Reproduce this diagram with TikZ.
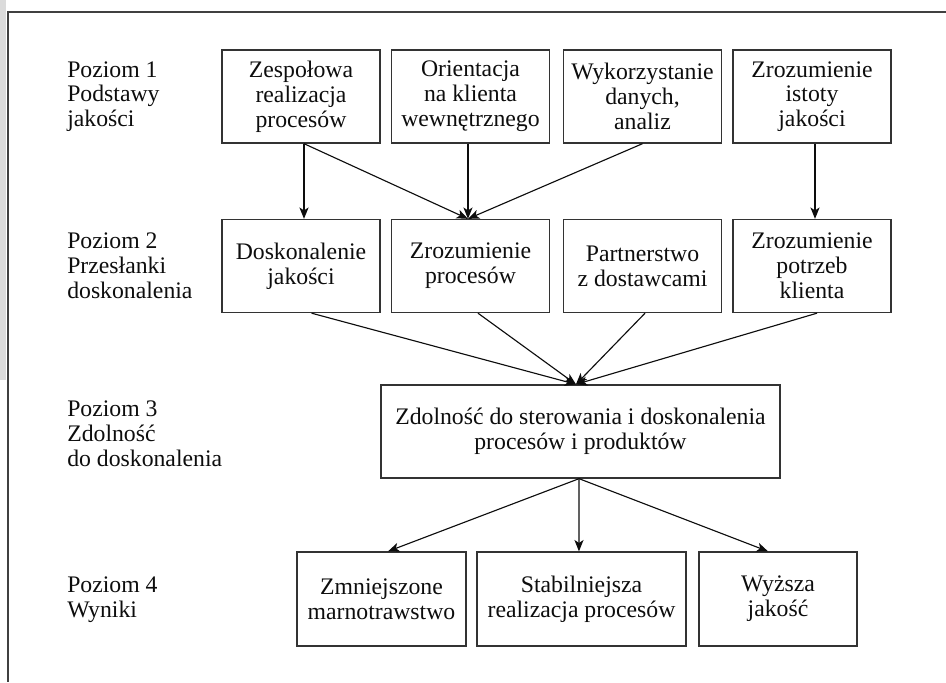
\documentclass[tikz,border=0pt]{standalone}
\usepackage{fontspec}
\setmainfont{Liberation Serif}
\usetikzlibrary{arrows.meta}
\newcommand\diagfont{\fontsize{17.8}{18.6}\selectfont}
\begin{document}
\begin{tikzpicture}[x=0.75pt,y=-0.75pt,
  box/.style={draw=black!80, line width=1pt, align=center, inner sep=2pt,
              font=\diagfont, text=black!95},
  toprow/.style={box, minimum width=118.5pt, minimum height=69.75pt},
  lvl/.style={anchor=west, align=left, inner sep=0pt, font=\diagfont, text=black!95},
  conn/.style={-{Stealth[length=8.5pt,width=6.8pt,inset=2.2pt]}, line width=0.85pt, black!95},
  ]
\useasboundingbox (0,0) rectangle (946,682);
% page edge and frame
\fill[black!14] (0,0) rectangle (6,380);
\draw[line width=1pt, black!75] (946,12) -- (8,12) -- (8,682);

% level labels
\node[lvl] (l1) at (67,96.5) {Poziom 1\\Podstawy\\jakości};
\node[lvl] (l2) at (67,266) {Poziom 2\\Przesłanki\\doskonalenia};
\node[lvl] (l3) at (67,434) {Poziom 3\\Zdolność\\do doskonalenia};
\node[lvl] (l4) at (67,600) {Poziom 4\\Wyniki};

% level 1
\node[toprow] (r1a) at (301,96.5)   {Zespołowa\\realizacja\\procesów};
\node[toprow] (r1b) at (470.5,96.5) {Orientacja\\na klienta\\wewnętrznego};
\node[toprow] (r1c) at (642.5,96.5) {Wykorzystanie\\danych,\\analiz};
\node[toprow] (r1d) at (812,96.5)   {Zrozumienie\\istoty\\jakości};

% level 2
\node[toprow] (r2a) at (301,266)   {Doskonalenie\\jakości};
\node[toprow] (r2b) at (470.5,266) {Zrozumienie\\procesów};
\node[toprow] (r2c) at (642.5,266) {Partnerstwo\\z dostawcami};
\node[toprow] (r2d) at (812,266)   {Zrozumienie\\potrzeb\\klienta};

% level 3
\node[box, minimum width=299.25pt, minimum height=69.75pt] (r3) at (580.5,431.5)
  {Zdolność do sterowania i doskonalenia\\procesów i produktów};

% level 4
\node[box, minimum width=126.75pt, minimum height=70.5pt] (r4a) at (381.5,599)
  {Zmniejszone\\marnotrawstwo};
\node[box, minimum width=156.75pt, minimum height=70.5pt] (r4b) at (581.5,599)
  {Stabilniejsza\\realizacja procesów};
\node[box, minimum width=118.5pt, minimum height=70.5pt] (r4c) at (778,599)
  {Wyższa\\jakość};

% level 1 -> level 2
\draw[conn] ([xshift=2.25pt]r1a.south) -- ([xshift=2.25pt]r2a.north);
\draw[conn] ([xshift=2.25pt]r1a.south) -- ([xshift=-1.9pt]r2b.north);
\draw[conn] ([xshift=-1.9pt]r1b.south) -- ([xshift=-1.9pt]r2b.north);
\draw[conn] (r1c.south) -- ([xshift=-1.9pt]r2b.north);
\draw[conn] ([xshift=2.25pt]r1d.south) -- ([xshift=2.25pt]r2d.north);

% level 2 -> level 3
\draw[conn] ([xshift=7.9pt]r2a.south) -- ([xshift=-3.4pt]r3.north);
\draw[conn] ([xshift=5.6pt]r2b.south) -- ([xshift=-3.4pt]r3.north);
\draw[conn] ([xshift=1.9pt]r2c.south) -- ([xshift=-3.4pt]r3.north);
\draw[conn] ([xshift=3.75pt]r2d.south) -- ([xshift=-3.4pt]r3.north);

% level 3 -> level 4
\draw[conn] ([xshift=-1.1pt]r3.south) -- ([xshift=4.9pt]r4a.north);
\draw[conn] ([xshift=-1.1pt]r3.south) -- ([xshift=-1.9pt]r4b.north);
\draw[conn] ([xshift=-1.1pt]r3.south) -- ([xshift=-7.5pt]r4c.north);
\end{tikzpicture}
\end{document}
